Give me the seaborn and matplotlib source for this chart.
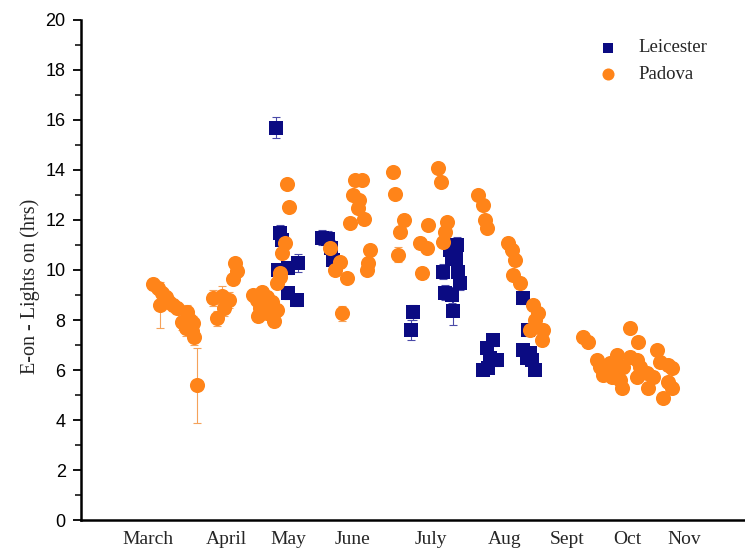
import matplotlib
matplotlib.use("Agg")
import matplotlib.pyplot as plt
from matplotlib.ticker import MultipleLocator
import numpy as np
import pandas as pd
import seaborn as sns

# Day-of-year positions for the month labels
month_labels = ["March", "April", "May", "June", "July", "Aug", "Sept", "Oct", "Nov"]
month_days = [70.8, 106.6, 135.1, 164.5, 200.8, 234.7, 263.2, 291.2, 317.0]

# Leicester: day of year, E-on minus lights-on (hrs), error
leic_day = [129.6, 131.4, 132.3, 130.5, 135.1, 139.7, 135.1, 139.2,
            150.7, 153.4, 154.8, 155.7,
            192.5, 191.6, 212.7, 209.5, 210.4, 212.2, 206.3, 213.2, 214.1,
            207.2, 210.4, 210.9,
            229.2, 226.5, 227.9, 231.1, 224.6, 226.9,
            243.0, 245.3, 243.0, 246.2, 244.8, 247.1, 248.5]
leic_hrs = [15.68, 11.48, 11.20, 10.00, 10.08, 10.28, 9.08, 8.80,
            11.28, 11.24, 10.88, 10.40,
            8.32, 7.60, 11.00, 10.80, 10.48, 10.44, 9.92, 9.92, 9.48,
            9.08, 9.00, 8.36,
            7.20, 6.88, 6.48, 6.40, 6.00, 6.08,
            8.88, 7.60, 6.80, 6.68, 6.48, 6.40, 6.00]
leic_err = [0.42, 0.30, 0.25, 0.25, 0.25, 0.35, 0.25, 0.25,
            0.30, 0.30, 0.30, 0.30,
            0.30, 0.40, 0.30, 0.30, 0.30, 0.30, 0.30, 0.30, 0.30,
            0.30, 0.30, 0.55,
            0.25, 0.25, 0.25, 0.25, 0.20, 0.20,
            0.25, 0.25, 0.25, 0.25, 0.25, 0.20, 0.20]

# Padova: day of year, E-on minus lights-on (hrs), error
pad_day = [73.1, 75.4, 77.2, 76.3, 79.0, 80.4, 82.3, 84.1,
           86.4, 88.7, 90.1, 91.4, 88.2, 91.0, 91.9, 93.3,
           100.6, 104.8, 108.0, 105.7, 102.5,
           110.7, 111.7, 109.8,
           119.0, 123.1, 120.8, 125.4, 127.7, 122.2, 125.4, 121.3, 130.0, 128.6,
           130.0, 131.4, 132.3, 133.7, 134.6, 135.5, 131.4,
           159.9, 159.0, 154.4, 156.7, 162.2, 163.6, 165.8, 169.1, 164.9, 167.7,
           167.2, 170.0, 172.7, 171.8, 171.4,
           183.3, 184.2, 188.4, 186.5, 185.6,
           199.4, 195.7, 198.9, 196.6, 204.0, 205.3, 208.1, 207.2, 206.3,
           222.3, 224.6, 225.6, 226.5, 236.1, 238.0, 239.3, 238.4, 241.6,
           247.6, 249.9, 248.5, 246.2, 252.2, 251.7,
           270.6, 272.9, 277.0, 278.4, 283.0, 286.2, 285.3, 288.9, 279.8, 283.9,
           287.6, 288.5, 292.2, 295.8, 292.2, 295.4, 296.7, 295.4, 300.0, 300.4,
           302.7, 304.6, 305.9, 309.6, 311.4, 309.6, 311.4, 307.3]
pad_hrs = [9.44, 9.28, 9.08, 8.60, 8.92, 8.72, 8.60, 8.48,
           7.92, 8.32, 8.00, 7.88, 7.68, 7.56, 7.32, 5.40,
           8.88, 8.96, 8.80, 8.48, 8.08,
           10.28, 9.96, 9.64,
           9.00, 9.12, 8.80, 8.92, 8.72, 8.48, 8.28, 8.16, 8.40, 7.96,
           9.48, 9.88, 10.68, 11.08, 13.44, 12.52, 9.72,
           8.28, 10.32, 10.88, 10.00, 9.68, 11.88, 13.60, 13.60, 13.00, 12.80,
           12.48, 12.04, 10.80, 10.28, 10.00,
           13.92, 13.04, 12.00, 11.52, 10.60,
           11.80, 11.08, 10.88, 9.88, 14.08, 13.52, 11.92, 11.52, 11.12,
           13.00, 12.60, 12.00, 11.68, 11.08, 10.80, 10.40, 9.80, 9.48,
           8.60, 8.28, 8.00, 7.60, 7.60, 7.20,
           7.32, 7.12, 6.40, 6.12, 6.28, 6.60, 6.12, 6.12, 5.80, 5.72,
           5.60, 5.28, 7.68, 7.12, 6.52, 6.40, 6.12, 5.72, 5.88, 5.28,
           5.72, 6.80, 6.32, 6.20, 6.08, 5.52, 5.28, 4.88]
pad_err = [0.25, 0.25, 0.25, 0.90, 0.25, 0.25, 0.25, 0.25,
           0.30, 0.30, 0.30, 0.30, 0.30, 0.30, 0.30, 1.50,
           0.30, 0.40, 0.30, 0.30, 0.30,
           0.20, 0.20, 0.20,
           0.25, 0.25, 0.25, 0.25, 0.25, 0.25, 0.25, 0.25, 0.25, 0.25,
           0.20, 0.20, 0.20, 0.20, 0.15, 0.15, 0.20,
           0.30, 0.20, 0.20, 0.20, 0.20, 0.20, 0.15, 0.15, 0.15, 0.15,
           0.15, 0.20, 0.20, 0.20, 0.20,
           0.15, 0.15, 0.25, 0.25, 0.30,
           0.20, 0.25, 0.25, 0.25, 0.15, 0.15, 0.20, 0.20, 0.20,
           0.15, 0.15, 0.15, 0.15, 0.25, 0.25, 0.25, 0.25, 0.25,
           0.25, 0.25, 0.25, 0.25, 0.25, 0.25,
           0.25, 0.25, 0.25, 0.25, 0.25, 0.25, 0.25, 0.25, 0.25, 0.25,
           0.25, 0.25, 0.20, 0.20, 0.25, 0.25, 0.25, 0.25, 0.25, 0.25,
           0.25, 0.20, 0.20, 0.20, 0.20, 0.20, 0.20, 0.20]

leic = pd.DataFrame({"site": "Leicester", "day": leic_day, "hrs": leic_hrs, "err": leic_err})
pad = pd.DataFrame({"site": "Padova", "day": pad_day, "hrs": pad_hrs, "err": pad_err})

sns.set_style("white")
plt.rcParams["font.family"] = ["Liberation Serif", "DejaVu Serif"]

navy = "#0b0b82"
orange = "#ff8419"

fig = plt.figure(figsize=(7.45, 5.49), dpi=100)
ax = fig.add_axes([0.1087, 0.0528, 0.8913, 0.9108])

# error bars first, then markers on top
ax.errorbar(leic["day"], leic["hrs"], yerr=leic["err"], fmt="none",
            ecolor="#4a4aa8", elinewidth=0.8, capsize=3, capthick=0.8, zorder=1)
ax.errorbar(pad["day"], pad["hrs"], yerr=pad["err"], fmt="none",
            ecolor="#f5a25a", elinewidth=0.8, capsize=3, capthick=0.8, zorder=1)

sns.scatterplot(data=leic, x="day", y="hrs", marker="s", s=88, color=navy,
                linewidth=0, label="Leicester", ax=ax, zorder=3)
sns.scatterplot(data=pad, x="day", y="hrs", marker="o", s=118, color=orange,
                linewidth=0, label="Padova", ax=ax, zorder=4)

ax.set_xlim(40, 345)
ax.set_ylim(0, 20)

ax.set_xticks(month_days)
ax.set_xticklabels(month_labels, fontsize=14)
ax.tick_params(axis="x", length=0, pad=8)

ax.yaxis.set_major_locator(MultipleLocator(2))
ax.yaxis.set_minor_locator(MultipleLocator(1))
ax.tick_params(axis="y", which="major", direction="out", length=6, width=1.3,
               left=True, labelsize=13, pad=5, colors="black")
ax.tick_params(axis="y", which="minor", direction="out", length=4, width=1.3, left=True)
for lab in ax.get_yticklabels():
    lab.set_fontfamily(["Liberation Sans", "DejaVu Sans"])

ax.set_xlabel("")
ax.set_ylabel("E-on - Lights on (hrs)", fontsize=14.5)
ax.yaxis.set_label_coords(-0.062, 0.468)

for side in ("top", "right"):
    ax.spines[side].set_visible(False)
for side in ("left", "bottom"):
    ax.spines[side].set_linewidth(1.8)
    ax.spines[side].set_color("black")

leg = ax.legend(loc="upper left", bbox_to_anchor=(0.74, 0.995), frameon=False,
                fontsize=13.5, handletextpad=0.6, labelspacing=0.5,
                markerscale=0.8)

fig.savefig("out.png", dpi=100, facecolor="white")
